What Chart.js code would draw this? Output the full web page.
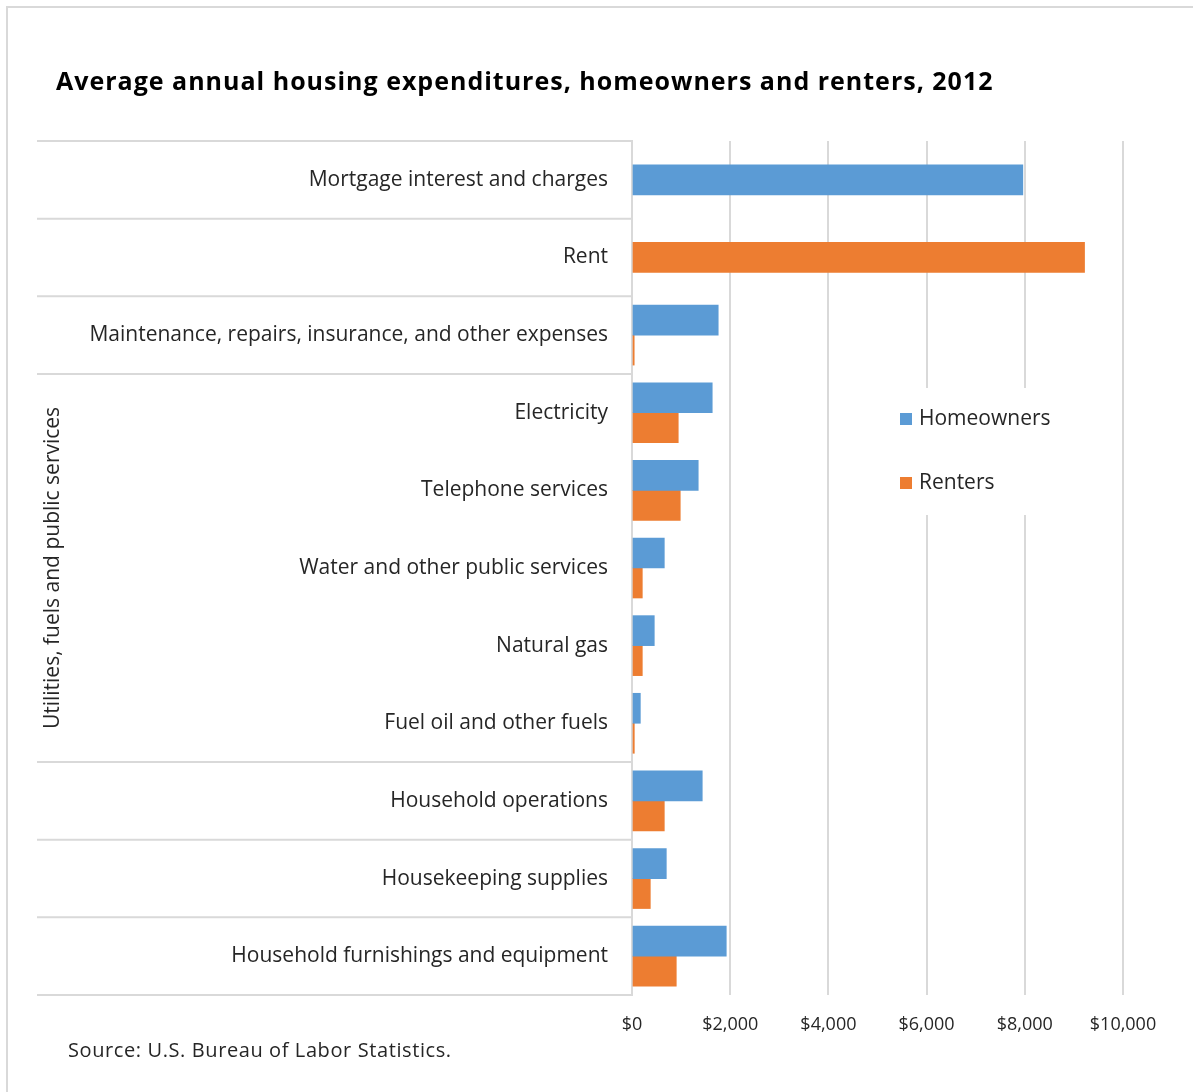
<!DOCTYPE html>
<html>
<head>
<meta charset="utf-8">
<script src="https://cdn.jsdelivr.net/npm/chart.js@4/dist/chart.umd.min.js"></script>
<style>
    body { margin: 0; background: #fff; font-family: 'Open Sans', sans-serif; }
    #frame { position: absolute; left: 6px; top: 6px; width: 1187px; height: 1086px;
             border-left: 2px solid #d9d9d9; border-top: 2px solid #d9d9d9; }
    #wrap { position: absolute; left: 0; top: 0; width: 1193px; height: 1092px; }
    #title { position: absolute; left: 56px; top: 63px; font-size: 25px; font-weight: 700;
             letter-spacing: 1px; color: #000; white-space: nowrap; }
    #source { position: absolute; left: 68px; top: 1036px; font-size: 20px; color: #262626;
              letter-spacing: 0.6px; white-space: nowrap; }
</style>
</head>
<body>
<div id="frame"></div>
<div id="wrap"><canvas id="chart" width="1193" height="1092"></canvas></div>
<div id="title">Average annual housing expenditures, homeowners and renters, 2012</div>
<div id="source">Source: U.S. Bureau of Labor Statistics.</div>
<script>
// categories, top to bottom
const categories = [
    'Mortgage interest and charges',
    'Rent',
    'Maintenance, repairs, insurance, and other expenses',
    'Electricity',
    'Telephone services',
    'Water and other public services',
    'Natural gas',
    'Fuel oil and other fuels',
    'Household operations',
    'Housekeeping supplies',
    'Household furnishings and equipment'
];
// outer grouping of the category axis (null = no group label)
const groups = [null, null, null,
    'Utilities, fuels and public services', 'Utilities, fuels and public services',
    'Utilities, fuels and public services', 'Utilities, fuels and public services',
    'Utilities, fuels and public services',
    null, null, null];
// row keys so that ungrouped rows each get their own separator
const groupKeys = [0, 1, 2, 3, 3, 3, 3, 3, 4, 5, 6];

const homeowners = [7960, null, 1756, 1634, 1349, 658, 454, 170, 1431, 699, 1920];
const renters = [null, 9217, 45, 942, 983, 210, 210, 47, 658, 373, 902];

const xTicks = [0, 2000, 4000, 6000, 8000, 10000];

const BLUE = '#5b9bd5';
const ORANGE = '#ed7d31';
const GRID = '#d9d9d9';
const FONT = 'Open Sans';

// separator lines + rotated group label on the left axis
const groupAxis = {
    id: 'groupAxis',
    afterDraw: (chart) => {
        const ctx = chart.ctx;
        const y = chart.scales.y;
        const half = (y.getPixelForValue(1) - y.getPixelForValue(0)) / 2;
        ctx.save();
        ctx.strokeStyle = GRID;
        ctx.lineWidth = 2;
        const line = (py) => {
            ctx.beginPath();
            ctx.moveTo(y.left, py);
            ctx.lineTo(y.right, py);
            ctx.stroke();
        };
        line(y.getPixelForValue(0) - half);
        for (let i = 0; i < categories.length; i++) {
            if (i === categories.length - 1 || groupKeys[i] !== groupKeys[i + 1]) {
                line(y.getPixelForValue(i) + half);
            }
        }
        // group labels
        ctx.fillStyle = '#262626';
        ctx.font = '21px "' + FONT + '"';
        ctx.textAlign = 'center';
        ctx.textBaseline = 'middle';
        let start = 0;
        for (let i = 0; i < groups.length; i++) {
            if (i === groups.length - 1 || groups[i] !== groups[i + 1]) {
                if (groups[i]) {
                    const mid = (y.getPixelForValue(start) + y.getPixelForValue(i)) / 2;
                    ctx.save();
                    ctx.translate(y.left + 16, mid);
                    ctx.rotate(-Math.PI / 2);
                    ctx.fillText(groups[i], 0, 0);
                    ctx.restore();
                }
                start = i + 1;
            }
        }
        ctx.restore();
    }
};

// legend inside the plot, on a white box
const insideLegend = {
    id: 'insideLegend',
    afterDraw: (chart, args, opts) => {
        const ctx = chart.ctx;
        ctx.save();
        ctx.fillStyle = '#fff';
        ctx.fillRect(opts.x, opts.y, opts.width, opts.height);
        ctx.font = '21px "' + FONT + '"';
        ctx.textBaseline = 'middle';
        ctx.textAlign = 'left';
        chart.data.datasets.forEach((ds, i) => {
            const cy = opts.y + opts.firstRow + i * opts.rowGap;
            ctx.fillStyle = ds.backgroundColor;
            ctx.fillRect(opts.x + 7, cy - 6, 12, 12);
            ctx.fillStyle = '#262626';
            ctx.fillText(ds.label, opts.x + 26, cy);
        });
        ctx.restore();
    }
};

new Chart(document.getElementById('chart'), {
    type: 'bar',
    data: {
        labels: categories,
        datasets: [
            { label: 'Homeowners', data: homeowners, backgroundColor: BLUE },
            { label: 'Renters', data: renters, backgroundColor: ORANGE }
        ]
    },
    options: {
        indexAxis: 'y',
        responsive: false,
        animation: false,
        barThickness: 30,
        skipNull: true,
        layout: {
            padding: { top: 141, left: 37, right: 70, bottom: 0 }
        },
        scales: {
            x: {
                min: 0,
                max: 10000,
                afterBuildTicks: (scale) => {
                    scale.ticks = xTicks.map(v => ({ value: v }));
                },
                afterFit: (scale) => { scale.height = 97; },
                grid: { color: GRID, lineWidth: 2, drawTicks: false },
                border: { display: false },
                ticks: {
                    padding: 19,
                    color: '#262626',
                    font: { family: FONT, size: 18 },
                    callback: (v) => '$' + v.toLocaleString('en-US')
                }
            },
            y: {
                afterFit: (scale) => { scale.width = 595; },
                grid: { display: false, drawTicks: false },
                border: { display: true, color: GRID, width: 2 },
                ticks: {
                    autoSkip: false,
                    padding: 24,
                    color: '#262626',
                    font: { family: FONT, size: 21 }
                }
            }
        },
        plugins: {
            legend: { display: false },
            tooltip: { enabled: false },
            insideLegend: { x: 893, y: 388, width: 170, height: 127, firstRow: 31, rowGap: 64 }
        }
    },
    plugins: [groupAxis, insideLegend]
});
</script>
</body>
</html>
